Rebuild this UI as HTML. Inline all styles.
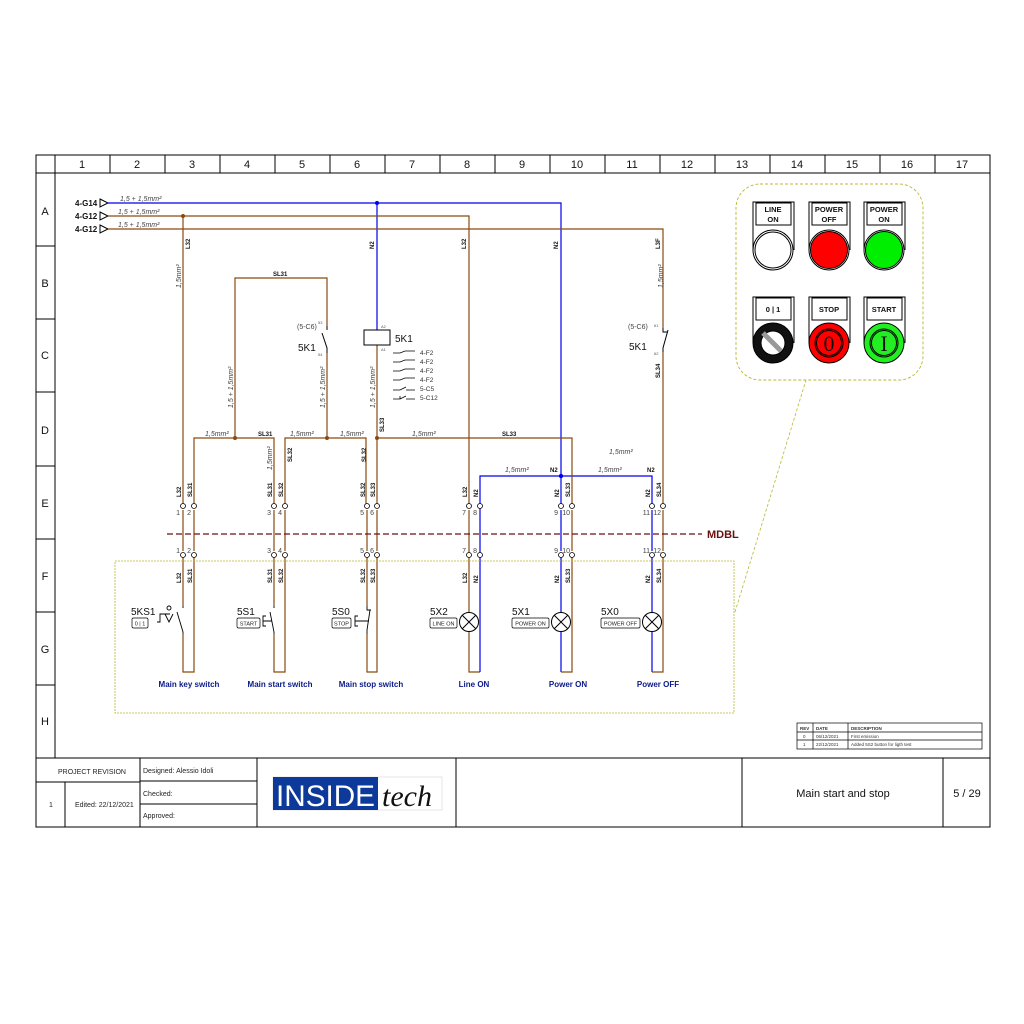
<!DOCTYPE html>
<html><head><meta charset="utf-8"><style>
html,body{margin:0;padding:0;background:#fff;}
svg{display:block;font-family:"Liberation Sans",sans-serif;}
.w{font-size:6px;font-weight:bold;fill:#111;}
.i{font-size:7px;font-style:italic;fill:#444;}
.n{font-size:7px;fill:#444;}
.lb{font-size:8px;font-weight:bold;fill:#0a1a8a;}
</style></head><body>
<svg width="1024" height="1024" viewBox="0 0 1024 1024" xmlns="http://www.w3.org/2000/svg">
<!-- frame -->
<rect x="36" y="155" width="954" height="672" fill="none" stroke="#000" stroke-width="1"/>
<line x1="36" y1="173" x2="990" y2="173" stroke="#000"/>
<line x1="55" y1="155" x2="55" y2="758" stroke="#000"/>
<g stroke="#000">
<line x1="110" y1="155" x2="110" y2="173"/><line x1="165" y1="155" x2="165" y2="173"/><line x1="220" y1="155" x2="220" y2="173"/><line x1="275" y1="155" x2="275" y2="173"/><line x1="330" y1="155" x2="330" y2="173"/><line x1="385" y1="155" x2="385" y2="173"/><line x1="440" y1="155" x2="440" y2="173"/><line x1="495" y1="155" x2="495" y2="173"/><line x1="550" y1="155" x2="550" y2="173"/><line x1="605" y1="155" x2="605" y2="173"/><line x1="660" y1="155" x2="660" y2="173"/><line x1="715" y1="155" x2="715" y2="173"/><line x1="770" y1="155" x2="770" y2="173"/><line x1="825" y1="155" x2="825" y2="173"/><line x1="880" y1="155" x2="880" y2="173"/><line x1="935" y1="155" x2="935" y2="173"/>
<line x1="36" y1="246" x2="55" y2="246"/><line x1="36" y1="319" x2="55" y2="319"/><line x1="36" y1="392" x2="55" y2="392"/><line x1="36" y1="466" x2="55" y2="466"/><line x1="36" y1="539" x2="55" y2="539"/><line x1="36" y1="612" x2="55" y2="612"/><line x1="36" y1="685" x2="55" y2="685"/>
<line x1="36" y1="758" x2="990" y2="758"/>
<line x1="990" y1="173" x2="990" y2="758"/>
</g>
<g font-size="11" fill="#111" text-anchor="middle">
<text x="82" y="168">1</text><text x="137" y="168">2</text><text x="192" y="168">3</text><text x="247" y="168">4</text><text x="302" y="168">5</text><text x="357" y="168">6</text><text x="412" y="168">7</text><text x="467" y="168">8</text><text x="522" y="168">9</text><text x="577" y="168">10</text><text x="632" y="168">11</text><text x="687" y="168">12</text><text x="742" y="168">13</text><text x="797" y="168">14</text><text x="852" y="168">15</text><text x="907" y="168">16</text><text x="962" y="168">17</text>
<text x="45" y="215">A</text><text x="45" y="287">B</text><text x="45" y="359">C</text><text x="45" y="434">D</text><text x="45" y="507">E</text><text x="45" y="580">F</text><text x="45" y="653">G</text><text x="45" y="725">H</text>
</g>

<!-- top feeds -->
<g font-size="8" font-weight="bold" fill="#111">
<text x="75" y="206">4-G14</text><text x="75" y="219">4-G12</text><text x="75" y="232">4-G12</text>
</g>
<g fill="none" stroke="#000" stroke-width="1">
<path d="M100 199 L108 203 L100 207 Z"/><path d="M100 212 L108 216 L100 220 Z"/><path d="M100 225 L108 229 L100 233 Z"/>
</g>
<text class="i" x="120" y="201">1,5 + 1,5mm²</text>
<text class="i" x="118" y="214">1,5 + 1,5mm²</text>
<text class="i" x="118" y="227">1,5 + 1,5mm²</text>

<g fill="none" stroke-width="1.2">
<!-- blue -->
<path d="M108 203 H561 V506" stroke="#0000ee"/>
<path d="M377 203 V330" stroke="#0000ee"/>
<path d="M480 506 V476 H652 V506" stroke="#0000ee"/>
<!-- brown -->
<path d="M108 216 H469 V506" stroke="#8a4a0f"/>
<path d="M183 216 V506" stroke="#8a4a0f"/>
<path d="M108 229 H663 V328" stroke="#8a4a0f"/>
<path d="M663 352 V506" stroke="#8a4a0f"/>
<path d="M235 438 V278 H327 V326" stroke="#8a4a0f"/>
<path d="M327 353 V438" stroke="#8a4a0f"/>
<path d="M377 345 V438" stroke="#8a4a0f"/>
<path d="M194 506 V438 H274 V506" stroke="#8a4a0f"/>
<path d="M285 506 V438 H366 V506" stroke="#8a4a0f"/>
<path d="M377 506 V438 H572 V506" stroke="#8a4a0f"/>
</g>
<g fill="#8a4a0f"><circle cx="183" cy="216" r="2"/><circle cx="235" cy="438" r="2"/><circle cx="327" cy="438" r="2"/><circle cx="377" cy="438" r="2"/></g>
<g fill="#0000ee"><circle cx="377" cy="203" r="2"/><circle cx="561" cy="476" r="2.2"/></g>

<!-- coil -->
<rect x="364" y="330" width="26" height="15" fill="#fff" stroke="#000"/>
<text x="395" y="342" font-size="10" fill="#111">5K1</text>
<text x="381" y="328" font-size="4" fill="#555">A2</text><text x="381" y="351" font-size="4" fill="#555">A1</text>
<g stroke="#000" stroke-width="0.8" fill="none">
<path d="M393 353 H400 L405 351 H415"/><path d="M393 362 H400 L405 360 H415"/><path d="M393 371 H400 L405 369 H415"/><path d="M393 380 H400 L405 378 H415"/><path d="M393 390 H400 L406 387 M406 390 H415"/><path d="M393 399 H400 V396 M400 399 L406 396 M406 399 H415"/>
</g>
<g font-size="6.5" fill="#333"><text x="420" y="355">4-F2</text><text x="420" y="364">4-F2</text><text x="420" y="373">4-F2</text><text x="420" y="382">4-F2</text><text x="420" y="391">5-C5</text><text x="420" y="400">5-C12</text></g>

<!-- 5K1 NO contact -->
<path d="M327 326 V330 M322 333 L327 348 V353" stroke="#000" fill="none"/>
<text x="297" y="329" class="n">(5-C6)</text><text x="318" y="324" font-size="4" fill="#555">53</text><text x="318" y="356" font-size="4" fill="#555">54</text>
<text x="298" y="351" font-size="10" fill="#111">5K1</text>
<!-- NC contact -->
<path d="M663 328 V332 H668 M668 330 L663 348 V352" stroke="#000" fill="none"/>
<text x="628" y="329" class="n">(5-C6)</text><text x="654" y="327" font-size="4" fill="#555">61</text><text x="654" y="355" font-size="4" fill="#555">62</text>
<text x="629" y="350" font-size="10" fill="#111">5K1</text>

<!-- wire labels vertical -->
<g class="w">
<text transform="translate(190,249) rotate(-90)">L32</text>
<text transform="translate(374,249) rotate(-90)">N2</text>
<text transform="translate(466,249) rotate(-90)">L32</text>
<text transform="translate(558,249) rotate(-90)">N2</text>
<text transform="translate(660,249) rotate(-90)">L3F</text>
<text transform="translate(660,378) rotate(-90)">SL34</text>
<text transform="translate(384,432) rotate(-90)">SL33</text>
<text transform="translate(292,462) rotate(-90)">SL32</text>
<text transform="translate(366,462) rotate(-90)">SL32</text>
<text x="273" y="276">SL31</text><text x="258" y="436">SL31</text><text x="502" y="436">SL33</text>
<text x="550" y="472">N2</text><text x="647" y="472">N2</text>
</g>
<g class="i">
<text transform="translate(181,288) rotate(-90)">1,5mm²</text>
<text transform="translate(663,288) rotate(-90)">1,5mm²</text>
<text transform="translate(233,408) rotate(-90)">1,5 + 1,5mm²</text>
<text transform="translate(325,408) rotate(-90)">1,5 + 1,5mm²</text>
<text transform="translate(375,408) rotate(-90)">1,5 + 1,5mm²</text>
<text transform="translate(272,470) rotate(-90)">1,5mm²</text>
<text x="205" y="436">1,5mm²</text><text x="290" y="436">1,5mm²</text><text x="340" y="436">1,5mm²</text><text x="412" y="436">1,5mm²</text>
<text x="505" y="472">1,5mm²</text><text x="598" y="472">1,5mm²</text><text x="609" y="454">1,5mm²</text>
</g>

<!-- terminal columns -->
<g id="cols">
<g fill="none" stroke-width="1.2">
<path d="M183 555 V606 M183 634 V672 H194 V555" stroke="#8a4a0f"/>
<path d="M274 555 V606 M274 634 V672 H285 V555" stroke="#8a4a0f"/>
<path d="M367 555 V606 M367 634 V672 H377 V555" stroke="#8a4a0f"/>
<path d="M469 555 V612 M469 632 V672 H480" stroke="#8a4a0f"/>
<path d="M480 506 V555 M480 672 V555" stroke="#0000ee"/>
<path d="M469 510 V555" stroke="#8a4a0f"/>
<path d="M561 555 V612 M561 632 V672" stroke="#0000ee"/>
<path d="M561 672 H572 V555" stroke="#8a4a0f"/>
<path d="M652 555 V612 M652 632 V672" stroke="#0000ee"/>
<path d="M652 672 H663 V555" stroke="#8a4a0f"/>
<path d="M183 510 V551 M194 510 V551 M274 510 V551 M285 510 V551 M367 510 V551 M377 510 V551 M572 510 V551 M663 510 V551" stroke="#8a4a0f"/>
<path d="M561 510 V551 M652 510 V551" stroke="#0000ee"/>
</g>
<g fill="#fff" stroke="#000" stroke-width="0.8">
<circle cx="183" cy="506" r="2.5"/><circle cx="194" cy="506" r="2.5"/><circle cx="274" cy="506" r="2.5"/><circle cx="285" cy="506" r="2.5"/><circle cx="367" cy="506" r="2.5"/><circle cx="377" cy="506" r="2.5"/><circle cx="469" cy="506" r="2.5"/><circle cx="480" cy="506" r="2.5"/><circle cx="561" cy="506" r="2.5"/><circle cx="572" cy="506" r="2.5"/><circle cx="652" cy="506" r="2.5"/><circle cx="663" cy="506" r="2.5"/>
<circle cx="183" cy="555" r="2.5"/><circle cx="194" cy="555" r="2.5"/><circle cx="274" cy="555" r="2.5"/><circle cx="285" cy="555" r="2.5"/><circle cx="367" cy="555" r="2.5"/><circle cx="377" cy="555" r="2.5"/><circle cx="469" cy="555" r="2.5"/><circle cx="480" cy="555" r="2.5"/><circle cx="561" cy="555" r="2.5"/><circle cx="572" cy="555" r="2.5"/><circle cx="652" cy="555" r="2.5"/><circle cx="663" cy="555" r="2.5"/>
</g>
<g class="n" font-size="6.5" text-anchor="end">
<text x="180" y="515">1</text><text x="191" y="515">2</text><text x="271" y="515">3</text><text x="282" y="515">4</text><text x="364" y="515">5</text><text x="374" y="515">6</text><text x="466" y="515">7</text><text x="477" y="515">8</text><text x="558" y="515">9</text><text x="570" y="515">10</text><text x="650" y="515">11</text><text x="661" y="515">12</text>
<text x="180" y="553">1</text><text x="191" y="553">2</text><text x="271" y="553">3</text><text x="282" y="553">4</text><text x="364" y="553">5</text><text x="374" y="553">6</text><text x="466" y="553">7</text><text x="477" y="553">8</text><text x="558" y="553">9</text><text x="570" y="553">10</text><text x="650" y="553">11</text><text x="661" y="553">12</text>
</g>
<g class="w">
<text transform="translate(181,497) rotate(-90)">L32</text><text transform="translate(192,497) rotate(-90)">SL31</text>
<text transform="translate(272,497) rotate(-90)">SL31</text><text transform="translate(283,497) rotate(-90)">SL32</text>
<text transform="translate(365,497) rotate(-90)">SL32</text><text transform="translate(375,497) rotate(-90)">SL33</text>
<text transform="translate(467,497) rotate(-90)">L32</text><text transform="translate(478,497) rotate(-90)">N2</text>
<text transform="translate(559,497) rotate(-90)">N2</text><text transform="translate(570,497) rotate(-90)">SL33</text>
<text transform="translate(650,497) rotate(-90)">N2</text><text transform="translate(661,497) rotate(-90)">SL34</text>
<text transform="translate(181,583) rotate(-90)">L32</text><text transform="translate(192,583) rotate(-90)">SL31</text>
<text transform="translate(272,583) rotate(-90)">SL31</text><text transform="translate(283,583) rotate(-90)">SL32</text>
<text transform="translate(365,583) rotate(-90)">SL32</text><text transform="translate(375,583) rotate(-90)">SL33</text>
<text transform="translate(467,583) rotate(-90)">L32</text><text transform="translate(478,583) rotate(-90)">N2</text>
<text transform="translate(559,583) rotate(-90)">N2</text><text transform="translate(570,583) rotate(-90)">SL33</text>
<text transform="translate(650,583) rotate(-90)">N2</text><text transform="translate(661,583) rotate(-90)">SL34</text>
</g>
</g>

<!-- MDBL -->
<line x1="167" y1="534" x2="702" y2="534" stroke="#6b1010" stroke-width="1.3" stroke-dasharray="6,3"/>
<text x="707" y="538" font-size="11" font-weight="bold" fill="#6b1010">MDBL</text>

<!-- yellow box -->
<rect x="115" y="561" width="619" height="152" fill="none" stroke="#b8b830" stroke-width="0.8" stroke-dasharray="2,1"/>
<line x1="735" y1="612" x2="806" y2="380" stroke="#b8b830" stroke-width="0.8" stroke-dasharray="3,2"/>

<!-- switch symbols -->
<g stroke="#000" stroke-width="0.9" fill="none">
<path d="M183 606 V608 M177 612 L183 632 V634"/>
<path d="M157 622 H160 V614 H170 M165 614 L169 622 L173 614"/><circle cx="169" cy="608" r="2"/>
<path d="M274 606 V608 M270 612 L274 632 V634"/><path d="M266 616 H263 V626 H266 M263 621 H272"/>
<path d="M367 606 V610 H371 M370 610 L367 630 V634"/><path d="M358 616 H355 V626 H358 M355 621 H369"/>
</g>
<g fill="#fff" stroke="#000" stroke-width="1">
<circle cx="469" cy="622" r="9.5"/><circle cx="561" cy="622" r="9.5"/><circle cx="652" cy="622" r="9.5"/>
</g>
<g stroke="#000" stroke-width="1"><path d="M462 615 L476 629 M476 615 L462 629"/><path d="M554 615 L568 629 M568 615 L554 629"/><path d="M645 615 L659 629 M659 615 L645 629"/></g>
<g font-size="10" fill="#111"><text x="131" y="615">5KS1</text><text x="237" y="615">5S1</text><text x="332" y="615">5S0</text><text x="430" y="615">5X2</text><text x="512" y="615">5X1</text><text x="601" y="615">5X0</text></g>
<g fill="#fff" stroke="#000" stroke-width="0.7">
<rect x="132" y="618" width="16" height="10" rx="1.5"/><rect x="237" y="618" width="23" height="10" rx="1.5"/><rect x="332" y="618" width="19" height="10" rx="1.5"/><rect x="430" y="618" width="27" height="10" rx="1.5"/><rect x="512" y="618" width="37" height="10" rx="1.5"/><rect x="601" y="618" width="39" height="10" rx="1.5"/>
</g>
<g font-size="5.5" fill="#222" text-anchor="middle"><text x="140" y="625.5">0 | 1</text><text x="248.5" y="625.5">START</text><text x="341.5" y="625.5">STOP</text><text x="443.5" y="625.5">LINE ON</text><text x="530.5" y="625.5">POWER ON</text><text x="620.5" y="625.5">POWER OFF</text></g>
<g class="lb" text-anchor="middle"><text x="189" y="687">Main key switch</text><text x="280" y="687">Main start switch</text><text x="371" y="687">Main stop switch</text><text x="474" y="687">Line ON</text><text x="568" y="687">Power ON</text><text x="658" y="687">Power OFF</text></g>

<!-- button panel -->
<rect x="736" y="184" width="187" height="196" rx="24" fill="none" stroke="#b8b830" stroke-width="0.9" stroke-dasharray="3,2"/>
<g stroke="#000" stroke-width="1">
<path d="M753 250 V202 H794 V250" fill="#fff"/><path d="M809 250 V202 H850 V250" fill="#fff"/><path d="M864 250 V202 H905 V250" fill="#fff"/>
<path d="M753 343 V297 H794 V343" fill="#fff"/><path d="M809 343 V297 H850 V343" fill="#fff"/><path d="M864 343 V297 H905 V343" fill="#fff"/>
<rect x="756" y="203" width="35" height="22" fill="#fff"/><rect x="812" y="203" width="35" height="22" fill="#fff"/><rect x="867" y="203" width="35" height="22" fill="#fff"/>
<rect x="756" y="298" width="35" height="22" fill="#fff"/><rect x="812" y="298" width="35" height="22" fill="#fff"/><rect x="867" y="298" width="35" height="22" fill="#fff"/>
<circle cx="773" cy="250" r="20" fill="#fff"/><circle cx="773" cy="250" r="18" fill="#fff"/>
<circle cx="829" cy="250" r="20" fill="#fff"/><circle cx="829" cy="250" r="18.5" fill="#f00"/>
<circle cx="884" cy="250" r="20" fill="#fff"/><circle cx="884" cy="250" r="18.5" fill="#0e0"/>
<circle cx="773" cy="343" r="20" fill="#111"/><circle cx="773" cy="343" r="12" fill="#fff"/>
<circle cx="829" cy="343" r="20" fill="#f00"/><circle cx="829" cy="343" r="14" fill="none"/><circle cx="829" cy="343" r="12.5" fill="none"/>
<circle cx="884" cy="343" r="20" fill="#2e2"/><circle cx="884" cy="343" r="14" fill="none"/><circle cx="884" cy="343" r="12.5" fill="none"/>
</g>
<path d="M763 333 L781 351" stroke="#999" stroke-width="5"/>
<g font-size="7.5" font-weight="bold" fill="#111" text-anchor="middle">
<text x="773" y="212">LINE</text><text x="773" y="222">ON</text><text x="829" y="212">POWER</text><text x="829" y="222">OFF</text><text x="884" y="212">POWER</text><text x="884" y="222">ON</text>
<text x="773" y="312">0  |  1</text><text x="829" y="312">STOP</text><text x="884" y="312">START</text>
</g>
<text x="829" y="351" font-size="22" font-family="Liberation Serif,serif" text-anchor="middle" fill="#111">0</text>
<text x="884" y="351" font-size="22" font-family="Liberation Serif,serif" text-anchor="middle" fill="#111">I</text>

<!-- rev table -->
<g stroke="#000" stroke-width="0.7" fill="none">
<rect x="797" y="723" width="185" height="26"/><line x1="797" y1="732" x2="982" y2="732"/><line x1="797" y1="740" x2="982" y2="740"/><line x1="813" y1="723" x2="813" y2="749"/><line x1="848" y1="723" x2="848" y2="749"/>
</g>
<g font-size="4.5" fill="#333"><text x="800" y="730" font-weight="bold">REV</text><text x="816" y="730" font-weight="bold">DATE</text><text x="851" y="730" font-weight="bold">DESCRIPTION</text>
<text x="803" y="738">0</text><text x="816" y="738">06/12/2021</text><text x="851" y="738">First emission</text>
<text x="803" y="746">1</text><text x="816" y="746">22/12/2021</text><text x="851" y="746">Added 5S2 button for ligth test</text></g>

<!-- title block -->
<g stroke="#000" stroke-width="1">
<line x1="140" y1="758" x2="140" y2="827"/><line x1="257" y1="758" x2="257" y2="827"/><line x1="456" y1="758" x2="456" y2="827"/><line x1="742" y1="758" x2="742" y2="827"/><line x1="943" y1="758" x2="943" y2="827"/>
<line x1="36" y1="782" x2="140" y2="782"/><line x1="140" y1="781" x2="257" y2="781"/><line x1="140" y1="804" x2="257" y2="804"/><line x1="65" y1="782" x2="65" y2="827"/>
</g>
<g font-size="7" fill="#222"><text x="58" y="774">PROJECT REVISION</text><text x="143" y="773">Designed: Alessio Idoli</text><text x="143" y="796">Checked:</text><text x="143" y="818">Approved:</text><text x="49" y="807">1</text><text x="75" y="807">Edited: 22/12/2021</text></g>
<rect x="273" y="777" width="169" height="33" fill="#fff" stroke="#ccc" stroke-width="0.5"/>
<rect x="273" y="777" width="105" height="33" fill="#0d3a9a"/>
<text x="276" y="806" font-size="30" fill="#fff" textLength="99" lengthAdjust="spacingAndGlyphs">INSIDE</text>
<text x="382" y="806" font-size="30" font-style="italic" fill="#111" font-family="Liberation Serif,serif">tech</text>
<text x="843" y="797" font-size="11" fill="#111" text-anchor="middle">Main start and stop</text>
<text x="967" y="797" font-size="11" fill="#111" text-anchor="middle">5 / 29</text>
</svg>
</body></html>
